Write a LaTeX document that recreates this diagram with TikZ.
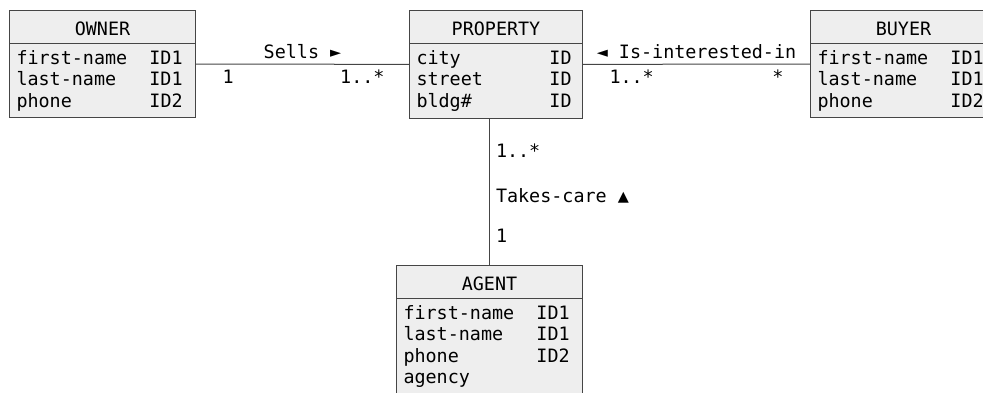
\documentclass[tikz,border=0pt]{standalone}
\usepackage{fontspec}
\newfontfamily\umlfont{DejaVu Sans Mono}
\usetikzlibrary{shapes.multipart}
\definecolor{classfill}{HTML}{EEEEEE}
\definecolor{classline}{HTML}{454545}
\begin{document}
\begin{tikzpicture}[x=1pt, y=-1pt,
  every node/.style={font=\umlfont\fontsize{18.4}{21.3}\selectfont},
  umlclass/.style={rectangle split, rectangle split parts=2, rectangle split part align={center,left}, align=left, draw=classline, fill=classfill, line width=1pt, inner xsep=7pt, inner ysep=6.5pt, minimum width=186pt, anchor=north west},
  assoc/.style={draw=classline, line width=1pt},
  lbl/.style={inner sep=0pt}]
\clip (0,0) rectangle (983,392);
\node[umlclass] (owner) at (9,10) {\rule[-1pt]{0pt}{19pt}OWNER \nodepart{two} first-name~~ID1\\last-name~~~ID1\\phone~~~~~~~ID2};
\node[umlclass, minimum width=173pt] (property) at (409,10) {\rule[-1pt]{0pt}{19pt}PROPERTY \nodepart{two} city~~~~~~~~ID\\street~~~~~~ID\\bldg\#~~~~~~~ID};
\node[umlclass] (buyer) at (810,10) {\rule[-1pt]{0pt}{19pt}BUYER \nodepart{two} first-name~~ID1\\last-name~~~ID1\\phone~~~~~~~ID2};
\node[umlclass] (agent) at (396,265) {\rule[-1pt]{0pt}{19pt}AGENT \nodepart{two} first-name~~ID1\\last-name~~~ID1\\phone~~~~~~~ID2\\agency};
\draw[assoc] (owner.east) -- node[lbl, anchor=base, yshift=6pt] {Sells ►}
  node[lbl, pos=0, anchor=base west, xshift=26pt, yshift=-19pt] {1}
  node[lbl, pos=1, anchor=base east, xshift=-24pt, yshift=-19pt] {1..*} (property.west);
\draw[assoc] (property.east) -- node[lbl, anchor=base, yshift=6pt] {◄ Is-interested-in}
  node[lbl, pos=0, anchor=base west, xshift=26pt, yshift=-19pt] {1..*}
  node[lbl, pos=1, anchor=base east, xshift=-26pt, yshift=-19pt] {*} (buyer.west);
\draw[assoc] (agent.north |- property.south) -- node[lbl, pos=0.268, anchor=base west, xshift=6pt] {1..*}
  node[lbl, pos=0.57, anchor=base west, xshift=6pt] {Takes-care ▲}
  node[lbl, pos=0.846, anchor=base west, xshift=6pt] {1} (agent.north);
\end{tikzpicture}
\end{document}
